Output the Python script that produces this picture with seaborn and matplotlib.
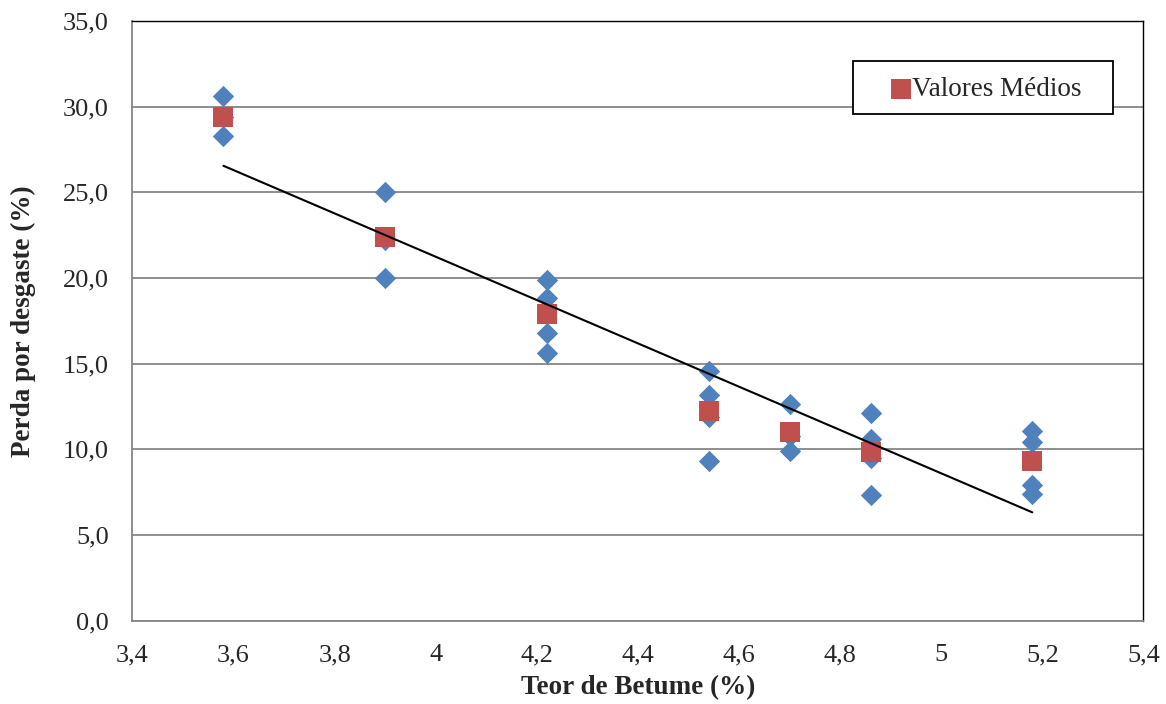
import numpy as np
import pandas as pd
import matplotlib
matplotlib.use("Agg")
import matplotlib.pyplot as plt
import matplotlib.patches as mpatches
import seaborn as sns
from matplotlib.ticker import FixedLocator, FixedFormatter

# Individual test results: bitumen content (%) and abrasion loss (%)
teor_ensaios = [3.58, 3.58, 3.58,
                3.90, 3.90, 3.90,
                4.22, 4.22, 4.22, 4.22,
                4.54, 4.54, 4.54, 4.54,
                4.70, 4.70, 4.70,
                4.86, 4.86, 4.86, 4.86,
                5.18, 5.18, 5.18, 5.18]
perda_ensaios = [30.6, 29.4, 28.3,
                 25.0, 22.2, 20.0,
                 19.9, 18.85, 16.8, 15.6,
                 14.6, 13.15, 11.9, 9.35,
                 12.65, 10.8, 9.9,
                 12.1, 10.6, 9.5, 7.35,
                 11.1, 10.45, 7.9, 7.4]

# Mean values per bitumen content
teor_medio = [3.58, 3.90, 4.22, 4.54, 4.70, 4.86, 5.18]
perda_media = [29.4, 22.4, 17.9, 12.25, 11.0, 9.85, 9.35]

# Linear trend line y = a*x + b
tendencia_coef = [-12.64, 71.80]

x_ticks = [3.4, 3.6, 3.8, 4.0, 4.2, 4.4, 4.6, 4.8, 5.0, 5.2, 5.4]
x_tick_labels = ["3,4", "3,6", "3,8", "4", "4,2", "4,4", "4,6", "4,8", "5", "5,2", "5,4"]
y_ticks = [0, 5, 10, 15, 20, 25, 30, 35]
y_tick_labels = ["0,0", "5,0", "10,0", "15,0", "20,0", "25,0", "30,0", "35,0"]

sns.set_style("white")
plt.rcParams["font.family"] = ["Liberation Serif", "DejaVu Serif"]

blue = "#4F81BD"
red = "#C0504D"
grid_gray = "#868686"

fig = plt.figure(figsize=(11.66, 7.04), dpi=100)
ax = fig.add_axes([0.1136, 0.1183, 0.8671, 0.8519])

df_ens = pd.DataFrame({"teor": teor_ensaios, "perda": perda_ensaios})
df_med = pd.DataFrame({"teor": teor_medio, "perda": perda_media})

sns.scatterplot(data=df_ens, x="teor", y="perda", marker="D", s=118,
                color=blue, edgecolor=blue, linewidth=0, ax=ax, zorder=3,
                legend=False)
sns.scatterplot(data=df_med, x="teor", y="perda", marker="s", s=200,
                color=red, edgecolor=red, linewidth=0, ax=ax, zorder=4,
                label="Valores Médios")

xt = np.array([min(teor_medio), max(teor_medio)])
yt = tendencia_coef[0] * xt + tendencia_coef[1]
sns.lineplot(x=xt, y=yt, color="black", linewidth=1.5, ax=ax, zorder=5,
             legend=False)

ax.set_xlim(3.4, 5.4)
ax.set_ylim(0, 35)
ax.xaxis.set_major_locator(FixedLocator(x_ticks))
ax.xaxis.set_major_formatter(FixedFormatter(x_tick_labels))
ax.yaxis.set_major_locator(FixedLocator(y_ticks))
ax.yaxis.set_major_formatter(FixedFormatter(y_tick_labels))

ax.grid(axis="y", color=grid_gray, linewidth=1.3)
ax.set_axisbelow(True)
ax.tick_params(axis="both", direction="out", length=6, width=1.3,
               color=grid_gray, labelsize=19)
ax.tick_params(axis="x", pad=11)
ax.tick_params(axis="y", pad=11)

for side in ["left", "bottom"]:
    ax.spines[side].set_color(grid_gray)
    ax.spines[side].set_linewidth(1.3)
for side in ["top", "right"]:
    ax.spines[side].set_color("black")
    ax.spines[side].set_linewidth(1.0)

ax.set_xlabel("Teor de Betume (%)", fontsize=19.5, fontweight="bold", labelpad=6)
ax.set_ylabel("Perda por desgaste (%)", fontsize=19.5, fontweight="bold", labelpad=19.5)

# Legend box frame drawn separately so its padding can be set freely
frame = mpatches.Rectangle((0.7127, 0.845), 0.2572, 0.0883,
                           transform=ax.transAxes, facecolor="white",
                           edgecolor="black", linewidth=1.3, zorder=6)
ax.add_patch(frame)

leg = ax.legend(loc="center left", bbox_to_anchor=(0.7493, 0.8858),
                fontsize=19.5, frameon=False,
                borderpad=0, handletextpad=0.0, handlelength=0.8,
                borderaxespad=0, markerscale=1.0)
leg.set_zorder(7)

fig.savefig("out.png", dpi=100, facecolor="white")
